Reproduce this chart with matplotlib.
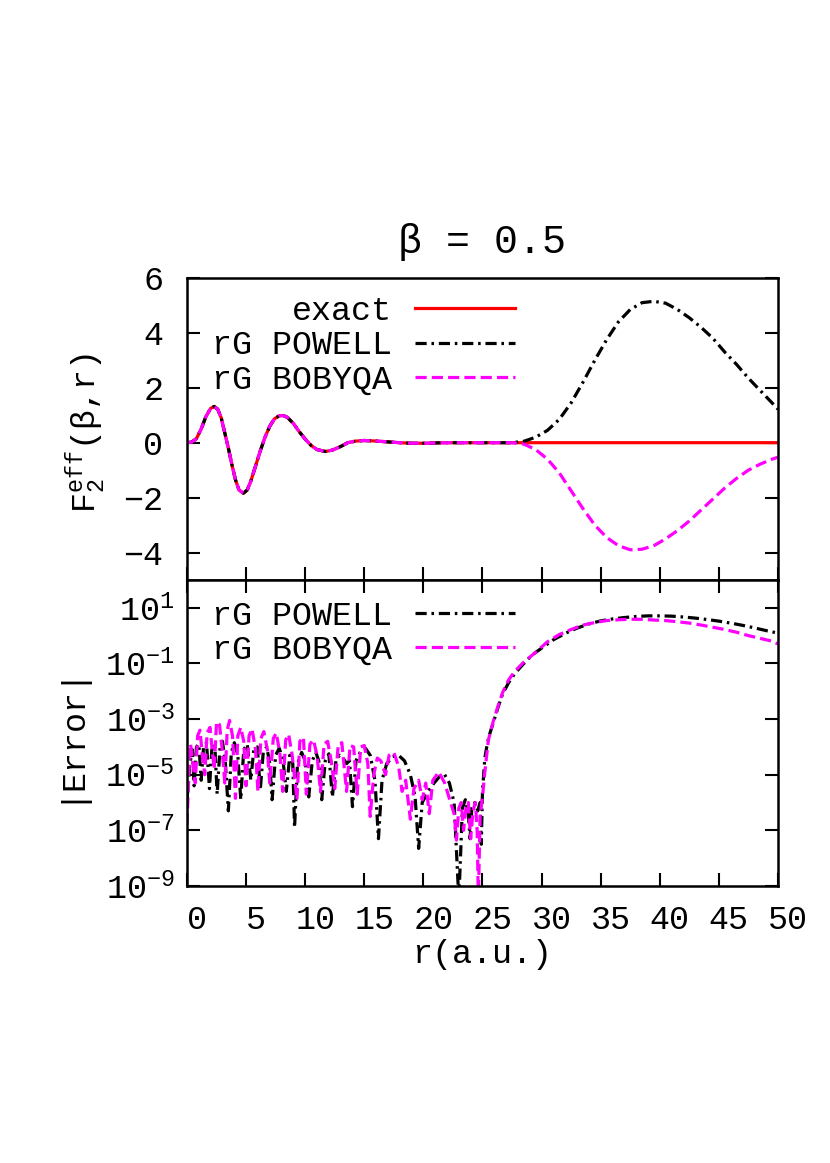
import numpy as np
import matplotlib.pyplot as plt
from matplotlib.ticker import FixedLocator, NullLocator, FuncFormatter
from matplotlib.transforms import ScaledTranslation

plt.rcParams['font.family'] = ['Liberation Mono', 'DejaVu Sans']
plt.rcParams['font.size'] = 24
plt.rcParams['mathtext.fontset'] = 'custom'
plt.rcParams['mathtext.rm'] = 'Liberation Mono'
plt.rcParams['mathtext.it'] = 'Liberation Mono'
plt.rcParams['mathtext.bf'] = 'Liberation Mono'

# ---- top panel: F_2^eff(beta, r) ----
# common oscillating part (all three curves coincide here)
r_osc = [0.0, 0.4, 0.8, 1.2, 1.6, 2.0, 2.3, 2.6, 2.9, 3.2, 3.5, 3.8, 4.1, 4.4, 4.77,
         5.1, 5.4, 5.8, 6.2, 6.6, 7.0, 7.4, 7.8, 8.15, 8.5, 9.0, 9.5, 10.0, 10.5,
         11.0, 11.7, 12.3, 13.0, 13.6, 14.3, 15.0, 16.0, 17.0, 18.0, 19.0, 20.0,
         21.0, 22.0, 24.0, 26.0, 27.5]
f_osc = [0.0, 0.02, 0.15, 0.5, 0.95, 1.25, 1.32, 1.22, 0.9, 0.35, -0.2, -0.8, -1.35,
         -1.72, -1.84, -1.72, -1.4, -0.85, -0.3, 0.2, 0.6, 0.87, 0.98, 0.99, 0.92,
         0.7, 0.4, 0.13, -0.1, -0.25, -0.32, -0.27, -0.14, 0.0, 0.06, 0.08, 0.06,
         0.03, 0.0, -0.02, -0.02, -0.01, 0.0, 0.0, 0.0, 0.0]

# tails where the fits depart from the exact curve
r_tail = [28.5, 29.5, 30.5, 31.5, 32.5, 33.5, 34.5, 35.5, 36.5, 37.5, 38.5, 39.5,
          40.5, 41.5, 42.5, 43.5, 44.5, 45.5, 46.5, 47.5, 48.5, 49.5, 50.0]
powell_tail = [0.05, 0.2, 0.45, 0.85, 1.45, 2.2, 3.0, 3.75, 4.4, 4.85, 5.1, 5.15,
               5.08, 4.85, 4.55, 4.2, 3.8, 3.3, 2.85, 2.35, 1.9, 1.45, 1.22]
bobyqa_tail = [-0.05, -0.25, -0.6, -1.1, -1.75, -2.4, -3.0, -3.45, -3.75, -3.9,
               -3.88, -3.75, -3.5, -3.2, -2.85, -2.45, -2.05, -1.65, -1.3, -1.0,
               -0.78, -0.6, -0.53]
exact_tail_r = [50.0]
exact_tail = [0.0]

# ---- bottom panel: |Error| (log10 values) ----
r_err_powell = [0.0, 0.25, 0.45, 0.6, 0.8, 1.0, 1.2, 1.4, 1.65, 1.9,
                2.1, 2.35, 2.55, 2.8, 3.0, 3.25, 3.5, 3.75, 4.0, 4.3,
                4.55, 4.8, 5.1, 5.4, 5.65, 5.95, 6.2, 6.45, 6.75, 7.0,
                7.2, 7.5, 7.8, 8.1, 8.4, 8.7, 8.95, 9.1, 9.35, 9.7,
                10.0, 10.3, 10.6, 10.9, 11.15, 11.4, 11.7, 12.0, 12.3, 12.6,
                12.9, 13.2, 13.5, 13.75, 14.0, 14.3, 14.7, 15.1, 15.5, 15.9,
                16.2, 16.5, 16.9, 17.4, 17.9, 18.4, 18.9, 19.3, 19.6, 19.9,
                20.4, 20.9, 21.4, 21.8, 22.2, 22.6, 23.0, 23.3, 23.55, 23.8,
                23.95, 24.1, 24.35, 24.6, 24.8, 24.9, 25.0, 25.2, 25.4, 25.6,
                25.9, 26.3, 26.7, 27.2, 27.7, 28.5, 29.2, 30.0, 31.0, 32.0,
                33.0, 34.0, 35.0, 36.0, 37.0, 38.0, 39.0, 40.0, 41.0, 42.0,
                43.0, 44.0, 45.0, 46.0, 47.0, 48.0, 49.0, 50.0]
log_err_powell = [-5.9, -4.6, -4.1, -5.4, -4.0, -3.9, -5.2, -4.0, -3.85, -5.5,
                  -4.1, -3.9, -5.7, -4.0, -3.8, -4.6, -6.3, -4.2, -3.85, -4.3,
                  -5.9, -4.1, -3.9, -5.2, -4.1, -4.0, -5.55, -4.2, -4.0, -4.6,
                  -5.9, -4.3, -4.05, -4.4, -5.6, -4.3, -4.6, -6.9, -4.6, -4.2,
                  -4.5, -5.8, -4.5, -4.2, -4.5, -5.9, -4.5, -4.25, -5.8, -4.5,
                  -4.3, -4.4, -4.6, -4.5, -6.15, -4.5, -4.15, -4.05, -4.3, -5.2,
                  -7.3, -5.2, -4.6, -4.35, -4.3, -4.5, -5.0, -5.8, -7.65, -6.0,
                  -5.6, -5.3, -5.05, -5.0, -5.3, -6.0, -9.5, -6.2, -5.9, -6.4,
                  -7.3, -6.2, -6.0, -6.3, -6.0, -7.5, -5.6, -4.4, -3.9, -3.55,
                  -3.15, -2.6, -2.1, -1.7, -1.38, -1.0, -0.7, -0.45, -0.15, 0.08,
                  0.27, 0.42, 0.53, 0.6, 0.65, 0.69, 0.71, 0.71, 0.7, 0.67,
                  0.63, 0.58, 0.52, 0.45, 0.37, 0.28, 0.18, 0.09]

r_err_bobyqa = [0.0, 0.15, 0.3, 0.5, 0.7, 0.9, 1.1, 1.3, 1.5, 1.7,
                1.95, 2.15, 2.3, 2.5, 2.75, 2.95, 3.2, 3.4, 3.6, 3.85,
                4.1, 4.3, 4.55, 4.8, 5.0, 5.25, 5.5, 5.8, 6.0, 6.25,
                6.5, 6.8, 7.0, 7.3, 7.55, 7.85, 8.1, 8.35, 8.6, 8.9,
                9.3, 9.55, 9.85, 10.1, 10.4, 10.7, 11.0, 11.3, 11.6, 11.9,
                12.2, 12.5, 12.8, 13.1, 13.5, 13.8, 14.1, 14.4, 14.7, 15.0,
                15.3, 15.5, 15.8, 16.1, 16.4, 16.8, 17.1, 17.5, 17.9, 18.2,
                18.5, 18.9, 19.2, 19.6, 19.9, 20.2, 20.5, 20.8, 21.3, 21.8,
                22.3, 22.6, 22.8, 23.0, 23.2, 23.4, 23.6, 23.8, 24.0, 24.2,
                24.4, 24.55, 24.65, 24.8, 25.0, 25.2, 25.5, 25.9, 26.3, 26.7,
                27.2, 27.7, 28.5, 29.5, 30.5, 31.5, 32.5, 33.5, 34.5, 35.5,
                36.5, 37.5, 38.5, 39.5, 40.5, 41.5, 42.5, 43.5, 44.5, 45.5,
                46.5, 47.5, 48.5, 49.5, 50.0]
log_err_bobyqa = [-6.8, -5.0, -3.9, -4.6, -5.3, -3.6, -3.4, -4.3, -5.0, -3.5,
                  -3.3, -4.2, -4.8, -3.1, -3.2, -4.0, -5.3, -3.4, -3.05, -3.6,
                  -5.85, -3.6, -3.3, -3.8, -5.4, -3.6, -3.35, -4.1, -5.6, -3.7,
                  -3.45, -4.1, -5.3, -3.7, -3.5, -4.2, -5.6, -3.75, -3.55, -4.3,
                  -5.9, -3.8, -3.65, -5.7, -3.9, -3.75, -4.3, -5.6, -3.9, -3.8,
                  -4.5, -5.5, -3.9, -3.85, -5.6, -3.95, -4.0, -5.7, -4.0, -3.95,
                  -4.6, -6.5, -5.0, -4.4, -4.5, -5.0, -4.3, -4.2, -4.7, -5.6,
                  -5.2, -6.6, -5.5, -5.2, -5.9, -5.3, -6.4, -5.2, -4.9, -5.3,
                  -6.0, -6.4, -7.35, -6.2, -6.0, -7.0, -6.2, -6.0, -7.3, -6.3,
                  -6.0, -7.0, -9.5, -6.5, -5.8, -4.9, -3.75, -3.1, -2.55, -2.05,
                  -1.6, -1.3, -0.95, -0.6, -0.22, 0.04, 0.22, 0.38, 0.47, 0.54,
                  0.57, 0.59, 0.585, 0.56, 0.54, 0.5, 0.45, 0.38, 0.3, 0.22,
                  0.12, 0.0, -0.1, -0.2, -0.3]

x_ticks = [0, 5, 10, 15, 20, 25, 30, 35, 40, 45, 50]
y_ticks_top = [-4, -2, 0, 2, 4, 6]
y_ticks_err = [1e-9, 1e-7, 1e-5, 1e-3, 1e-1, 1e1]

RED = '#ff0000'
MAG = '#ff00ff'
LW = 2.3
dashdot = (0, (3.5, 1.5, 0.8, 1.5))
dashed = (0, (3.5, 1.6))

fig = plt.figure(figsize=(8.3, 11.63), dpi=100)
ax1 = fig.add_axes([0.2253, 0.5013, 0.712, 0.2597])
ax2 = fig.add_axes([0.2253, 0.2382, 0.712, 0.2631])

ax1.plot(r_osc + exact_tail_r, f_osc + exact_tail, color=RED, lw=LW, label='exact')
ax1.plot(r_osc + r_tail, f_osc + powell_tail, color='black', lw=LW, ls=dashdot,
         label='rG POWELL')
ax1.plot(r_osc + r_tail, f_osc + bobyqa_tail, color=MAG, lw=LW, ls=dashed,
         label='rG BOBYQA')

ax2.plot(r_err_powell, 10.0 ** np.array(log_err_powell), color='black', lw=LW,
         ls=dashdot, label='rG POWELL')
ax2.plot(r_err_bobyqa, 10.0 ** np.array(log_err_bobyqa), color=MAG, lw=LW,
         ls=dashed, label='rG BOBYQA')

ax1.set_xlim(0, 50)
ax1.set_ylim(-5, 6)
ax1.set_xticks(x_ticks)
ax1.set_yticks(y_ticks_top)

ax2.set_xlim(0, 50)
ax2.set_yscale('log')
ax2.set_ylim(1e-9, 1e2)
ax2.set_xticks(x_ticks)
ax2.yaxis.set_major_locator(FixedLocator(y_ticks_err))
ax2.yaxis.set_minor_locator(NullLocator())
ax2.yaxis.set_major_formatter(
    FuncFormatter(lambda v, p: r'$\mathregular{10^{%d}}$' % round(np.log10(v))))

ax1.tick_params(direction='in', length=9.5, width=1.5, top=False, right=True,
                labelbottom=False)
ax1.tick_params(axis='y', pad=17)
ax2.tick_params(direction='in', length=9.5, width=1.5, top=True, right=True)
ax2.tick_params(axis='y', pad=9)
ax2.tick_params(axis='x', pad=14)

for ax in (ax1, ax2):
    for s in ax.spines.values():
        s.set_linewidth(1.8)

# gnuplot puts the x tick labels a little right of the ticks
shift = ScaledTranslation(0.1, 0, fig.dpi_scale_trans)
for lab in ax2.get_xticklabels():
    lab.set_transform(lab.get_transform() + shift)

ax1.set_title('β = 0.5', pad=18)
ax1.set_ylabel(r'$\mathregular{F_2^{eff}}$(β,r)')
ax1.yaxis.set_label_coords(-0.134, 0.487)
ax2.set_ylabel('|Error|')
ax2.yaxis.set_label_coords(-0.173, 0.5)
ax2.set_xlabel('r(a.u.)', labelpad=2)

ax1.legend(loc='upper right', bbox_to_anchor=(0.555, 0.94), frameon=False,
           markerfirst=False, handlelength=3.0, handletextpad=0.7,
           labelspacing=0.1, borderpad=0, borderaxespad=0)
ax2.legend(loc='upper right', bbox_to_anchor=(0.555, 0.932), frameon=False,
           markerfirst=False, handlelength=3.0, handletextpad=0.7,
           labelspacing=0.1, borderpad=0, borderaxespad=0)

fig.savefig('out.png', dpi=100)
